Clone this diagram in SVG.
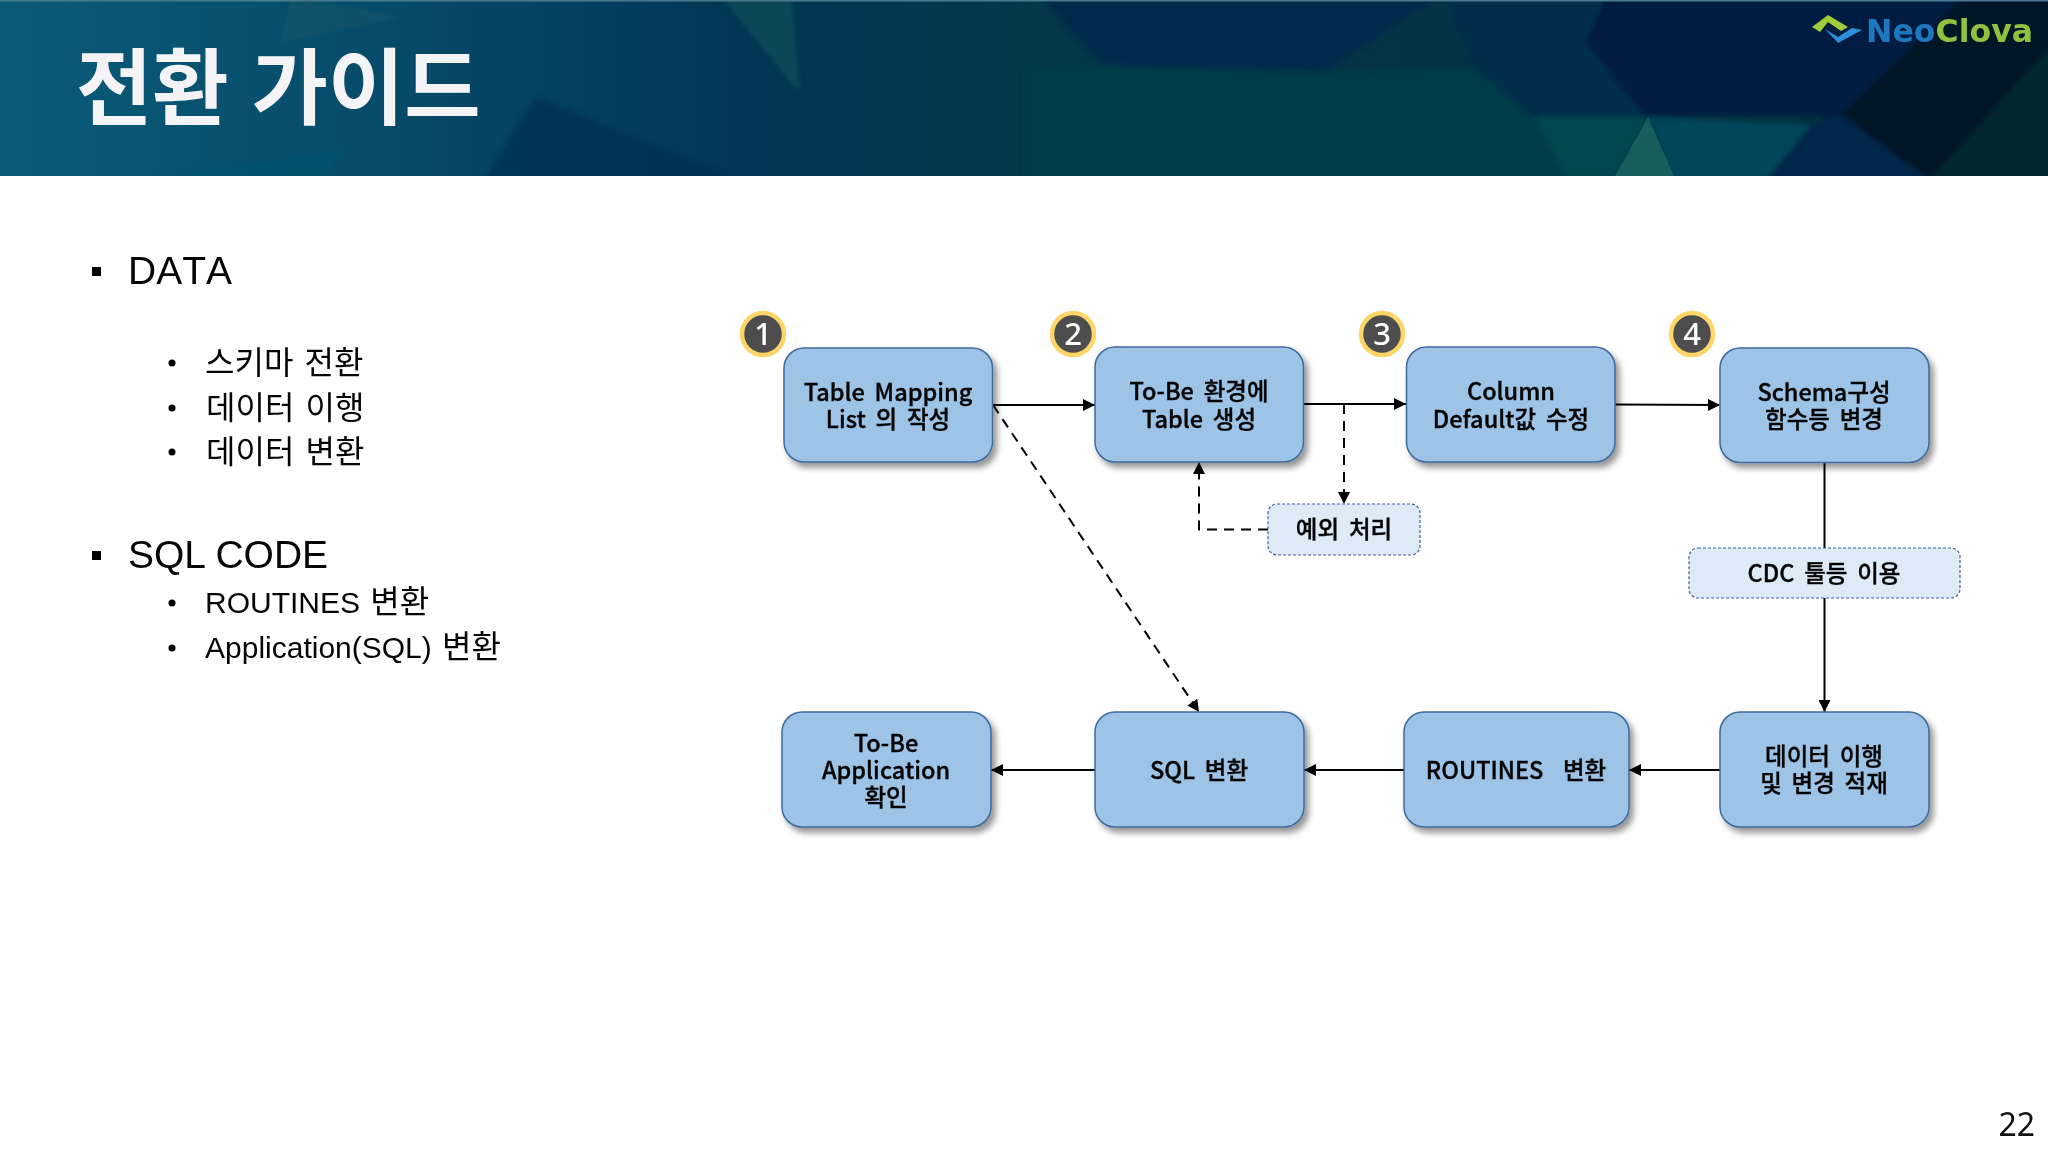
<svg xmlns="http://www.w3.org/2000/svg" width="2048" height="1152" viewBox="0 0 2048 1152">
<style>
.kr{font-family:"Noto Sans CJK KR","Noto Sans",sans-serif}
.node rect{fill:#9dc3e6;stroke:#41699c;stroke-width:1.5}
.node text,.note text{font-family:"Noto Sans CJK KR","Noto Sans",sans-serif;font-size:23.500px;font-weight:500;fill:#050505;text-anchor:middle;word-spacing:4.500px;stroke:#050505;stroke-width:.35px}
.note rect{fill:#deebf7;stroke:#3f5f96;stroke-width:1.2;stroke-dasharray:3 2}
.badge circle{fill:#4d4d4d;stroke:#fdd568;stroke-width:4.5}
.badge text{font-family:"Noto Sans","Liberation Sans",sans-serif;font-size:31px;font-weight:500;fill:#fff;text-anchor:middle}
.h1{font-family:"Liberation Sans",sans-serif;font-size:39px;fill:#050505}
.h2{font-family:"Liberation Sans","Noto Sans CJK KR",sans-serif;font-size:30px;fill:#050505}
.h2 tspan{font-family:"Noto Sans CJK KR",sans-serif;font-size:32px;font-weight:400;word-spacing:4px}
.con{fill:none;stroke:#000;stroke-width:2}
.dash{stroke-dasharray:10 7}
</style>
<defs>
<linearGradient id="hdr" x1="0" x2="1" y1="0" y2="0">
<stop offset="0" stop-color="#0a5b78"/><stop offset=".2" stop-color="#064a68"/><stop offset=".36" stop-color="#033655"/><stop offset=".5" stop-color="#03374a"/><stop offset="1" stop-color="#03303f"/>
</linearGradient>
<filter id="soft" x="-5%" y="-5%" width="110%" height="110%"><feGaussianBlur stdDeviation="2.500"/></filter>
<filter id="sh" x="-10%" y="-10%" width="125%" height="130%"><feDropShadow dx="4" dy="5" stdDeviation="3" flood-color="#000" flood-opacity=".42"/></filter>
<clipPath id="hc"><rect width="2048" height="176"/></clipPath>
<marker id="arr" markerUnits="userSpaceOnUse" markerWidth="13" markerHeight="12" refX="12" refY="6" orient="auto"><path d="M0 0L12 6L0 12Z" fill="#000"/></marker>
</defs>
<rect width="2048" height="1152" fill="#fff"/>
<g id="header">
<rect width="2048" height="176" fill="url(#hdr)"/>
<g clip-path="url(#hc)"><g filter="url(#soft)">
<polygon points="291,-5 402,17 281,43" fill="#0f5468" opacity=".7"/>
<polygon points="719,-5 791,-5 800,93" fill="#0f4a5a" opacity=".85"/>
<polygon points="150,180 345,150 320,180" fill="#0a556f" opacity=".6"/>
<polygon points="536,97 738,180 484,180" fill="#03304e" opacity=".7"/>
<polygon points="1040,-5 1102,65 1325,72 1442,-5" fill="#02294c"/>
<polygon points="1024,67 1102,65 1325,72 1475,68 1534,117 1566,180 1024,180" fill="#033b49"/>
<polygon points="1442,-5 1606,-5 1586,43 1645,117 1534,117 1475,68" fill="#032d4b"/>
<polygon points="1606,-5 1966,-5 1841,125 1815,115 1645,117 1586,43" fill="#031f3f"/>
<polygon points="1966,-5 2053,-5 2053,43 1929,180 1841,115" fill="#021528"/>
<polygon points="2053,43 2053,180 1929,180" fill="#03262f"/>
<polygon points="1534,117 1648,117 1615,180 1566,180" fill="#06464f"/>
<polygon points="1648,117 1811,125 1766,180 1674,180" fill="#05465a"/>
<polygon points="1811,125 1841,115 1929,180 1766,180" fill="#02264a"/>
</g>
<polygon points="1648,117 1674,176 1615,176" fill="#155e5c"/></g>
<rect width="2048" height="1.500" fill="#4a7a90"/>
<text x="76" y="118" class="kr" font-size="83" font-weight="700" fill="#f4f4f6" word-spacing="4">전환 가이드</text>
</g>
<g id="logo">
<path d="M1812 27L1828 15L1848 27L1841 31L1828 22L1820 32Z" fill="#a0cc3a"/>
<path d="M1825 29L1838 37L1852 28L1862 30L1838 43Z" fill="#2a8fd8"/>
<text x="1866" y="42" font-family="'DejaVu Sans',sans-serif" font-size="32" font-weight="700" textLength="167" lengthAdjust="spacingAndGlyphs"><tspan fill="#1e78c0">Neo</tspan><tspan fill="#8fc23e">Clova</tspan></text>
</g>
<g id="outline">
<rect x="92" y="267" width="9" height="9" fill="#000"/>
<text x="128" y="284" class="h1" style="font-kerning:none">DATA</text>
<circle cx="172" cy="363" r="3.500"/><text x="205" y="374" class="h2"><tspan>스키마 전환</tspan></text>
<circle cx="172" cy="408" r="3.500"/><text x="206" y="419" class="h2"><tspan>데이터 이행</tspan></text>
<circle cx="172" cy="452" r="3.500"/><text x="206" y="463" class="h2"><tspan>데이터 변환</tspan></text>
<rect x="92" y="551" width="9" height="9" fill="#000"/>
<text x="128" y="568" class="h1">SQL CODE</text>
<circle cx="172" cy="603" r="3.500"/><text x="205" y="613" class="h2">ROUTINES <tspan dx="2">변환</tspan></text>
<circle cx="172" cy="648" r="3.500"/><text x="205" y="658" class="h2">Application(SQL) <tspan dx="2">변환</tspan></text>
</g>
<g id="connectors">
<path class="con" d="M993 405H1095" marker-end="url(#arr)"/>
<path class="con" d="M1304 404H1406" marker-end="url(#arr)"/>
<path class="con" d="M1615 404.500L1720 405" marker-end="url(#arr)"/>
<path class="con dash" d="M1344 404V504" marker-end="url(#arr)"/>
<path class="con dash" d="M1268 529.500H1199V462" marker-end="url(#arr)"/>
<path class="con dash" d="M993 405L1199 712" marker-end="url(#arr)"/>
<path class="con" d="M1824.500 462V548"/>
<path class="con" d="M1824.500 598V712" marker-end="url(#arr)"/>
<path class="con" d="M1720 770H1629" marker-end="url(#arr)"/>
<path class="con" d="M1404 770H1304" marker-end="url(#arr)"/>
<path class="con" d="M1095 770H991" marker-end="url(#arr)"/>
</g>
<g id="n1" class="node"><rect x="784" y="348" width="208.500" height="114" rx="20" filter="url(#sh)"/><text y="401"><tspan x="888">Table Mapping</tspan><tspan x="888" dy="27">List 의 작성</tspan></text></g>
<g id="n2" class="node"><rect x="1095" y="347" width="208.500" height="115" rx="20" filter="url(#sh)"/><text y="400"><tspan x="1199">To-Be 환경에</tspan><tspan x="1199" dy="28">Table 생성</tspan></text></g>
<g id="n3" class="node"><rect x="1406.500" y="347" width="208.500" height="115" rx="20" filter="url(#sh)"/><text y="400"><tspan x="1511">Column</tspan><tspan x="1511" dy="28">Default값 수정</tspan></text></g>
<g id="n4" class="node"><rect x="1720" y="348" width="209" height="114.500" rx="20" filter="url(#sh)"/><text y="401"><tspan x="1824">Schema구성</tspan><tspan x="1824" dy="27">함수등 변경</tspan></text></g>
<g id="n5" class="node"><rect x="1720" y="712" width="209" height="115" rx="20" filter="url(#sh)"/><text y="765"><tspan x="1824">데이터 이행</tspan><tspan x="1824" dy="27">및 변경 적재</tspan></text></g>
<g id="n6" class="node"><rect x="1404" y="712" width="225" height="115" rx="20" filter="url(#sh)"/><text x="1516" y="779" xml:space="preserve">ROUTINES  변환</text></g>
<g id="n7" class="node"><rect x="1095" y="712" width="209" height="115" rx="20" filter="url(#sh)"/><text x="1199" y="779">SQL 변환</text></g>
<g id="n8" class="node"><rect x="782" y="712" width="209" height="115" rx="20" filter="url(#sh)"/><text y="752"><tspan x="886">To-Be</tspan><tspan x="886" dy="27">Application</tspan><tspan x="886" dy="27">확인</tspan></text></g>
<g id="note1" class="note"><rect x="1268" y="504" width="152" height="51" rx="9"/><text x="1344" y="538">예외 처리</text></g>
<g id="note2" class="note"><rect x="1689" y="548" width="271" height="50" rx="9"/><text x="1824" y="582">CDC 툴등 이용</text></g>
<g id="b1" class="badge"><circle cx="763" cy="334" r="21"/><text x="763" y="345">1</text></g>
<g id="b2" class="badge"><circle cx="1073" cy="334" r="21"/><text x="1073" y="345">2</text></g>
<g id="b3" class="badge"><circle cx="1382" cy="334" r="21"/><text x="1382" y="345">3</text></g>
<g id="b4" class="badge"><circle cx="1692" cy="334" r="21"/><text x="1692" y="345">4</text></g>
<text id="page" x="2035" y="1136" font-family="'Noto Sans',sans-serif" font-size="32" text-anchor="end" fill="#111">22</text>
</svg>
